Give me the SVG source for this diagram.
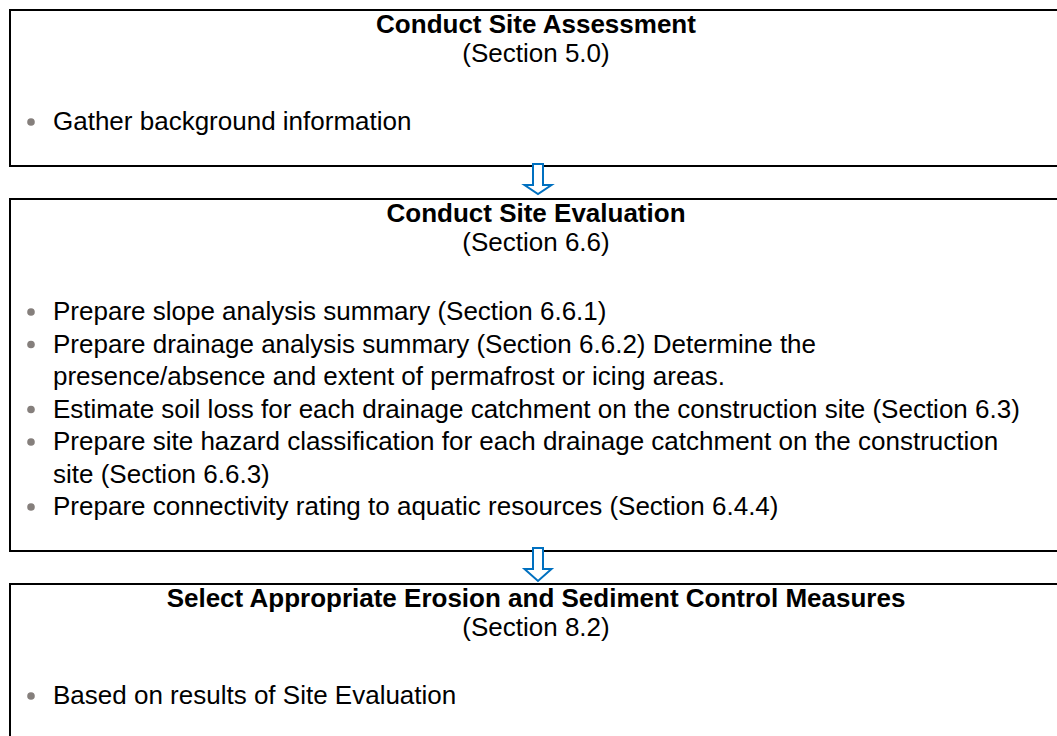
<svg xmlns="http://www.w3.org/2000/svg" width="1057" height="736" viewBox="0 0 1057 736">
<style>
.box{fill:#fff;stroke:#000;stroke-width:2}
.t{font-family:"Liberation Sans",Arial,sans-serif;font-size:26px;fill:#000}
.b{font-weight:bold}
.c{text-anchor:middle}
.dot{fill:#857f7c}
.arr{fill:#fff;stroke:#0070c0;stroke-width:2}
</style>
<rect width="1057" height="736" fill="#fff"/>
<g id="node1">
<rect class="box" x="10" y="10" width="1060" height="156"/>
<text class="t b c" x="536" y="33">Conduct Site Assessment</text>
<text class="t c" x="536" y="62">(Section 5.0)</text>
<circle class="dot" cx="31" cy="122" r="3.8"/>
<text class="t" x="53" y="130">Gather background information</text>
</g>
<g id="node2">
<rect class="box" x="10" y="199" width="1060" height="352"/>
<text class="t b c" x="536" y="222">Conduct Site Evaluation</text>
<text class="t c" x="536" y="251">(Section 6.6)</text>
<circle class="dot" cx="31" cy="312" r="3.8"/>
<text class="t" x="53" y="320">Prepare slope analysis summary (Section 6.6.1)</text>
<circle class="dot" cx="31" cy="344.5" r="3.8"/>
<text class="t" x="53" y="352.5">Prepare drainage analysis summary (Section 6.6.2) Determine the</text>
<text class="t" x="53" y="385">presence/absence and extent of permafrost or icing areas.</text>
<circle class="dot" cx="31" cy="409.5" r="3.8"/>
<text class="t" x="53" y="417.5">Estimate soil loss for each drainage catchment on the construction site (Section 6.3)</text>
<circle class="dot" cx="31" cy="442" r="3.8"/>
<text class="t" x="53" y="450">Prepare site hazard classification for each drainage catchment on the construction</text>
<text class="t" x="53" y="482.5">site (Section 6.6.3)</text>
<circle class="dot" cx="31" cy="507" r="3.8"/>
<text class="t" x="53" y="515">Prepare connectivity rating to aquatic resources (Section 6.4.4)</text>
</g>
<g id="node3">
<rect class="box" x="10" y="584" width="1060" height="200"/>
<text class="t b c" x="536" y="607">Select Appropriate Erosion and Sediment Control Measures</text>
<text class="t c" x="536" y="636">(Section 8.2)</text>
<circle class="dot" cx="31" cy="696" r="3.8"/>
<text class="t" x="53" y="704">Based on results of Site Evaluation</text>
</g>
<g id="connectors">
<path class="arr" d="M533,164 H543 V185 H551.5 L538,194 L524.5,185 H533 Z"/>
<path class="arr" d="M533,548 H543 V569 H551.5 L538,581 L524.5,569 H533 Z"/>
</g>
</svg>
